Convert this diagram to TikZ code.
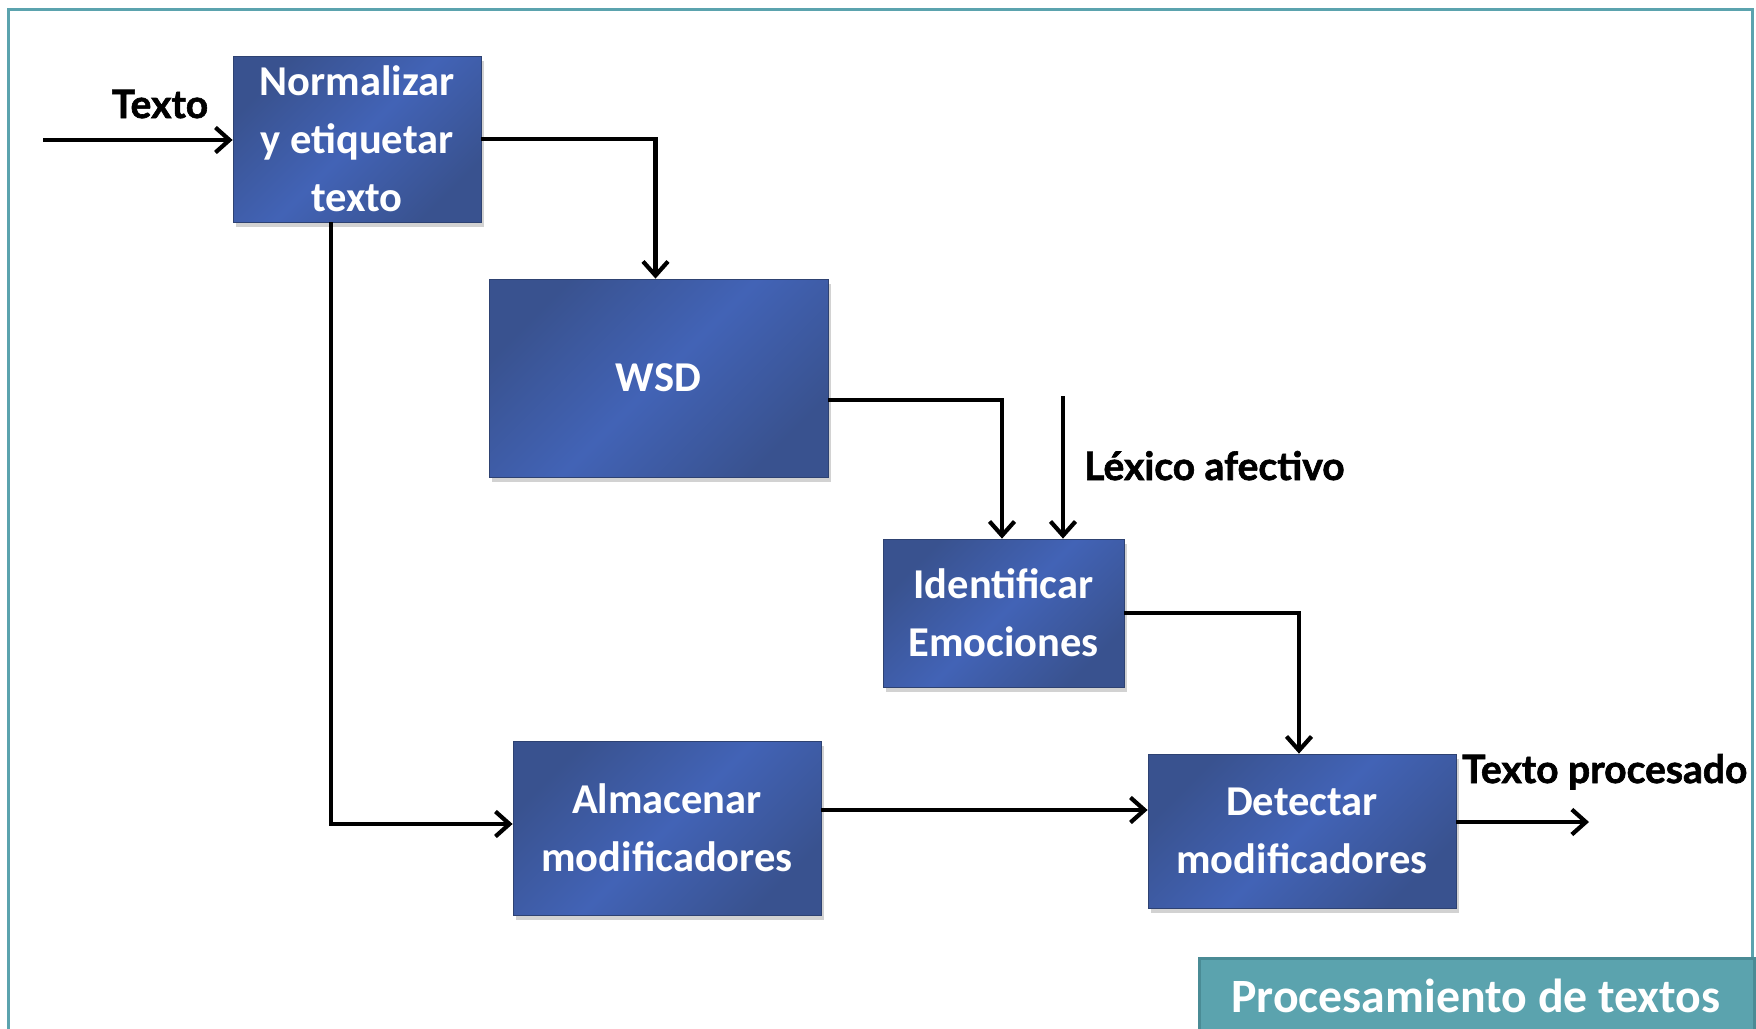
\documentclass[tikz,border=0pt]{standalone}
\usepackage{fontspec}
\setmainfont{Carlito}
\newfontfamily\labfont{Lato}[BoldFeatures={FakeBold=1.6}]
\usetikzlibrary{arrows.meta,shadows}
\definecolor{bdark}{HTML}{39528F}
\definecolor{blight}{HTML}{4263B6}
\definecolor{teal}{HTML}{5BA3AE}
\definecolor{tealdark}{HTML}{4A8B95}
\tikzset{
  procbox/.style={rectangle, inner sep=0pt, align=center, text=white,
    font=\fontsize{42.5}{58}\selectfont\bfseries,
    left color=bdark, right color=bdark, middle color=blight, shading angle=45,
    draw=bdark!80!black, line width=0.8pt,
    drop shadow={opacity=0.35, shadow xshift=3pt, shadow yshift=-5pt}},
  conn/.style={line width=4.2pt, -{Straight Barb[length=14pt,width=25pt,line width=4.2pt]}},
  lab/.style={font=\labfont\fontsize{39}{42}\selectfont\bfseries, inner sep=0pt},
}
\begin{document}
\begin{tikzpicture}[x=1pt,y=-1pt]
\useasboundingbox (0,0) rectangle (1756,1028);
\clip (0,0) rectangle (1756,1028);
\fill[white] (0,0) rectangle (1756,1028);
\draw[teal, line width=3pt] (8,9) rectangle (1752,1045);

\node[procbox, minimum width=248pt, minimum height=166pt] (norm) at (357,139) {Normalizar\\y etiquetar\\texto};
\node[procbox, minimum width=339pt, minimum height=198pt] (wsd) at (658.5,378) {WSD};
\node[procbox, minimum width=241pt, minimum height=148pt] (ident) at (1003.5,613) {Identificar\\Emociones};
\node[procbox, minimum width=308pt, minimum height=174pt] (alm) at (667,828) {Almacenar\\modificadores};
\node[procbox, minimum width=308pt, minimum height=154pt] (det) at (1302,831) {Detectar\\modificadores};

\coordinate (tin) at (43,140);
\coordinate (lex) at (1063,396);
\coordinate (tout) at (1589,822);

\node[lab, anchor=base] (ltexto) at (160,118) {Texto};
\node[lab, anchor=base west] (llex) at (1084,480) {Léxico afectivo};
\node[lab, anchor=base west] (lout) at (1462,783) {Texto procesado};

\draw[conn] (tin) -- (tin -| norm.west);
\draw[conn] (norm.east) -| ([xshift=-3pt]wsd.north);
\draw[conn] ([xshift=-26pt]norm.south) |- ([yshift=4pt]alm.west);
\draw[conn] ([yshift=-22pt]wsd.east) -| ([xshift=-1.5pt]ident.north);
\draw[conn] (lex) -- (lex |- ident.north);
\draw[conn] (ident.east) -| ([xshift=-3pt]det.north);
\draw[conn] ([yshift=18pt]alm.east) -- ([yshift=21pt]det.west);
\draw[conn] ([yshift=9pt]det.east) -- (tout);

\node[rectangle, fill=teal, draw=tealdark, line width=3pt, minimum width=555pt, minimum height=90pt, inner sep=0pt, anchor=north west] (title) at (1198,957) {};
\node[text=white, font=\fontsize{47.8}{52}\selectfont\bfseries, anchor=base, inner sep=0pt] (ttext) at (1476,1012) {Procesamiento de textos};
\end{tikzpicture}
\end{document}
